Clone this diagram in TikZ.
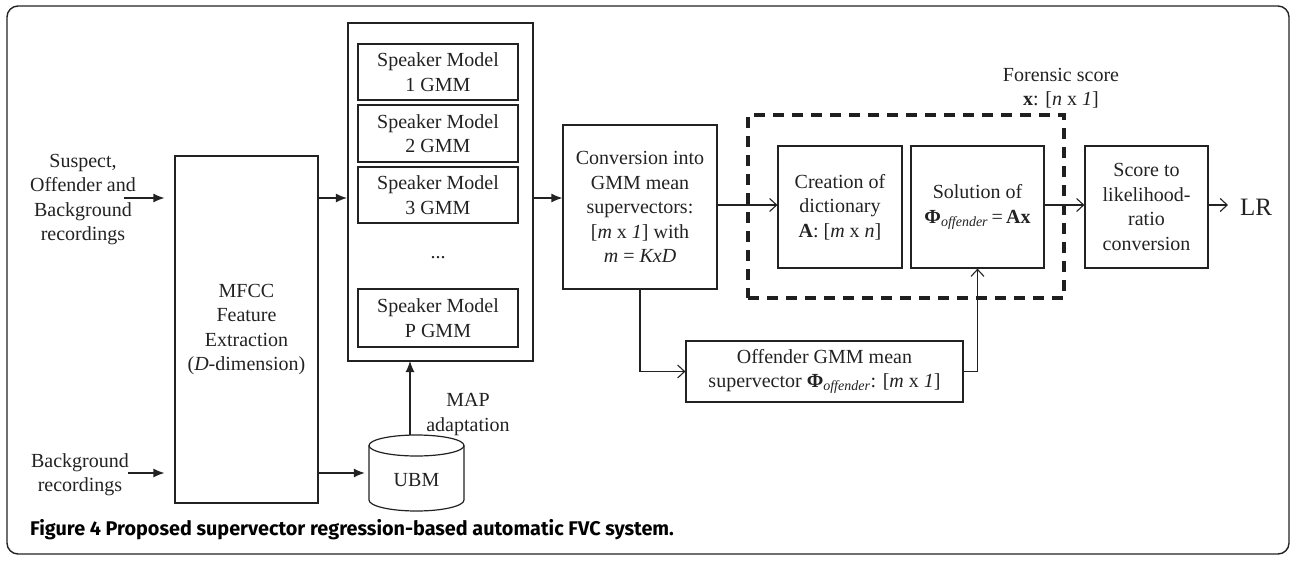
\documentclass[tikz,border=0pt]{standalone}
\usepackage{fontspec}
\setmainfont{Liberation Serif}
\newfontfamily\capfont{Fira Sans}
\usetikzlibrary{arrows.meta,shapes.geometric}
\definecolor{ink}{HTML}{222222}
\begin{document}
\begin{tikzpicture}[x=1pt,y=-1pt,
  every node/.style={text=ink},
  tx/.style={align=center, inner sep=0pt, font=\fontsize{20}{24.5}\selectfont},
  box/.style={tx, draw=ink, line width=1.2pt},
  fa/.style={draw=ink, line width=1.2pt, -{Latex[length=11pt,width=9pt]}},
  oa/.style={draw=ink, line width=1.1pt, -{Straight Barb[length=7pt,width=13pt]}},
]
\useasboundingbox (0,0) rectangle (1293,560);
% frame
\draw[ink, line width=1.4pt, rounded corners=11pt] (7,6) rectangle (1289,554);

% left inputs
\node[tx] (in1txt) at (83,199.5) {Suspect,\\Offender and\\Background\\recordings};
\node[tx] (in2txt) at (80,474.5) {Background\\recordings};
\coordinate (in1) at (124,198);
\coordinate (in2) at (128,473);

% MFCC
\node[box, minimum width=143pt, minimum height=347pt] (mfcc) at (246.5,329.5)
  {MFCC\\Feature\\Extraction\\(\textit{D}-dimension)};

% speaker models
\node[draw=ink, line width=2.2pt, minimum width=185pt, minimum height=338pt, inner sep=0pt] (spk) at (440.5,192) {};
\node[box, minimum width=160pt, minimum height=56pt] (s1) at (438,72) {Speaker Model\\1 GMM};
\node[box, minimum width=160pt, minimum height=57pt] (s2) at (438,133.5) {Speaker Model\\2 GMM};
\node[box, minimum width=160pt, minimum height=56pt] (s3) at (438,195) {Speaker Model\\3 GMM};
\node[tx] (dots) at (438,258) {...};
\node[box, minimum width=160pt, minimum height=58pt] (sp) at (438,318) {Speaker Model\\P GMM};

% UBM
\node[tx, minimum width=95pt, minimum height=76pt] (ubm) at (416.5,473) {};
\node[tx] (ubmtxt) at (416.5,480) {UBM};
\draw[ink, line width=1.2pt] (416.5,445.5) ellipse [x radius=47.5, y radius=10.5];
\draw[ink, line width=1.2pt] (369,445.5) -- (369,500) arc [start angle=180, end angle=0, x radius=47.5, y radius=11] -- (464,445.5);
\node[tx] (map) at (468,414.5) {MAP\\adaptation};

% conversion
\node[box, minimum width=154pt, minimum height=164pt] (conv) at (640,207)
  {Conversion into\\GMM mean\\supervectors:\\{}[\textit{m} x \textit{1}] with\\\textit{m} = \textit{KxD}};

% dashed group
\node[draw=ink!90!black, line width=3.6pt, dash pattern=on 11pt off 8pt, minimum width=316pt, minimum height=183pt, inner sep=0pt] (grp) at (906,206.5) {};
\node[box, minimum width=124pt, minimum height=122pt] (crea) at (840,207)
  {Creation of\\dictionary\\\textbf{A}: [\textit{m} x \textit{n}]};
\node[box, minimum width=133pt, minimum height=122pt] (sol) at (977.5,207)
  {Solution of\\\textbf{Φ}\textsubscript{\textit{offender}}\,=\,\textbf{Ax}};
\node[tx] (fs) at (1061,88) {Forensic score\\\textbf{x}: [\textit{n} x \textit{1}]};

% score
\node[box, minimum width=123pt, minimum height=122pt] (score) at (1146.5,207)
  {Score to\\likelihood-\\ratio\\conversion};
\node[tx, font=\fontsize{25}{30}\selectfont, anchor=west] (lr) at (1240,207) {LR};

% offender
\node[box, minimum width=277pt, minimum height=61pt] (off) at (824.5,371.5)
  {Offender GMM mean\\supervector \textbf{Φ}\textsubscript{\textit{offender}}: [\textit{m} x \textit{1}]};

% connectors
\draw[fa, shorten >=10pt] (in1) -- (in1 -| mfcc.west);
\draw[fa, shorten >=10pt] (in2) -- (in2 -| mfcc.west);
\draw[fa] (mfcc.east |- in1) -- (spk.west |- in1);
\draw[fa, shorten >=4pt] (mfcc.east |- in2) -- (ubm.west |- in2);
\draw[fa] (410,435) -- (410,361);
\draw[fa] (spk.east |- in1) -- (conv.west |- in1);
\draw[oa] (conv.east |- 0,205) -- (crea.west |- 0,205);
\draw[oa] (sol.east |- 0,205) -- (score.west |- 0,205);
\draw[oa, shorten >=12pt] (score.east |- 0,205) -- (lr.west |- 0,205);
\draw[oa] (conv.south) |- (off.west);
\draw[oa] (off.east) -| (sol.south);

% caption
\node[anchor=west, inner sep=0pt, font=\capfont\bfseries\fontsize{19.8}{22}\selectfont, text=black] (cap) at (30,530)
  {Figure 4 Proposed supervector regression-based automatic FVC system.};
\end{tikzpicture}
\end{document}
